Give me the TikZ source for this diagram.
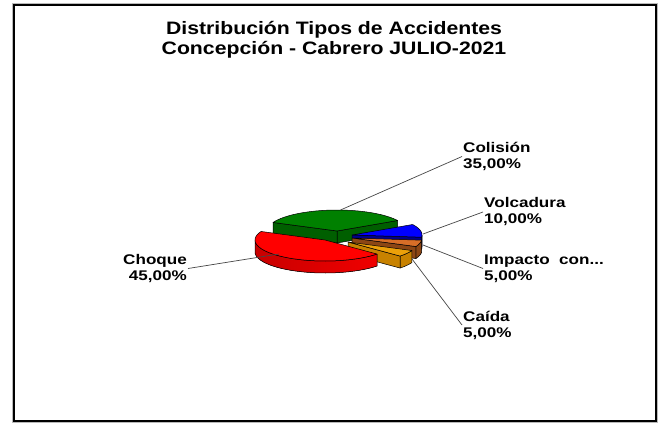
\documentclass[tikz,border=0pt]{standalone}
\usepackage{fontspec}
\setmainfont{Liberation Sans}
\newfontfamily\lblfont[FakeStretch=1.22]{Liberation Sans}
\newfontfamily\ttlfont[FakeStretch=1.18]{Liberation Sans}
\definecolor{pgreen}{RGB}{0,128,0}
\definecolor{pgreenS}{RGB}{0,95,0}
\definecolor{pred}{RGB}{255,0,0}
\definecolor{predS}{RGB}{240,0,0}
\definecolor{predD}{RGB}{200,0,0}
\definecolor{pblue}{RGB}{0,0,255}
\definecolor{pblueS}{RGB}{0,0,140}
\definecolor{pbrown}{RGB}{215,110,40}
\definecolor{pbrownS}{RGB}{140,70,20}
\definecolor{pyel}{RGB}{235,160,10}
\definecolor{pyelS}{RGB}{200,130,0}
\definecolor{leadc}{RGB}{70,70,70}
\def\rx{70}\def\ry{21}\def\dep{12}
\newcommand\outerwall[5]{%
  \filldraw[#5, draw=black, line width=.5pt, line join=round]
    plot[domain=#3:#4,samples=30] ({#1+\rx*cos(\x)},{#2-\ry*sin(\x)})
    -- plot[domain=#4:#3,samples=30] ({#1+\rx*cos(\x)},{#2+\dep-\ry*sin(\x)}) -- cycle;}
\newcommand\radwall[4]{%
  \filldraw[fill=#4, draw=black, line width=.5pt, line join=round]
    (#1,#2) -- ({#1+\rx*cos(#3)},{#2-\ry*sin(#3)})
    -- ({#1+\rx*cos(#3)},{#2+\dep-\ry*sin(#3)}) -- (#1,{#2+\dep}) -- cycle;}
\newcommand\topface[5]{%
  \filldraw[fill=#5, draw=black, line width=.5pt, line join=round]
    (#1,#2) -- plot[domain=#3:#4,samples=40] ({#1+\rx*cos(\x)},{#2-\ry*sin(\x)}) -- cycle;}
\tikzset{
  lbl/.style={font=\lblfont\bfseries\fontsize{14}{16}\selectfont, inner sep=1pt, align=left},
  lead/.style={draw=leadc, line width=.7pt},
}
\begin{document}
\begin{tikzpicture}[x=1pt,y=-1pt]
\useasboundingbox (0,0) rectangle (664,423);
\fill[white] (0,0) rectangle (664,423);
% frame
\draw[gray!55, line width=1pt] (12.5,3.5) rectangle (657.5,422.5);
\draw[black, line width=2pt] (14,5) rectangle (656,421);
% title
\node[font=\ttlfont\bfseries\fontsize{18}{19.5}\selectfont, align=center, inner sep=0pt] (title) at (334,40)
  {Distribución Tipos de Accidentes\\Concepción - Cabrero JULIO-2021};
% green (Colision)
\radwall{337}{231}{30}{pgreenS}
\radwall{337}{231}{156}{pgreenS}
\topface{337}{231}{30}{156}{pgreen}
% blue (Volcadura)
\outerwall{352}{235}{-6}{0}{fill=pblueS}
\radwall{352}{235}{-6}{pblueS}
\topface{352}{235}{-6}{30}{pblue}
% brown (Impacto con...)
\outerwall{352}{238}{-24}{-6}{fill=pbrownS}
\radwall{352}{238}{-24}{pbrownS}
\topface{352}{238}{-24}{-6}{pbrown}
% yellow (Caida)
\outerwall{348}{242}{-42}{-24}{fill=pyelS}
\radwall{348}{242}{-42}{pyelS}
\topface{348}{242}{-42}{-24}{pyel}
% red (Choque)
\outerwall{325}{240}{180}{318}{left color=predD, right color=predS}
\topface{325}{240}{156}{318}{pred}
% anchor points on the pie
\coordinate (pCol) at (340.5,210);
\coordinate (pVol) at (423,234);
\coordinate (pImp) at (423,245);
\coordinate (pCai) at (412,259);
\coordinate (pCho) at (279,254);
% labels
\node[lbl, anchor=west] (lCol) at (462,156.5) {Colisión\\35,00\%};
\node[lbl, anchor=west] (lVol) at (483,212) {Volcadura\\10,00\%};
\node[lbl, anchor=west] (lImp) at (483,268.5) {Impacto~~con...\\5,00\%};
\node[lbl, anchor=west] (lCai) at (462,325) {Caída\\5,00\%};
\node[lbl, anchor=east, align=right] (lCho) at (188,268.5) {Choque\\45,00\%};
% leaders
\draw[lead] (pCol) -- (lCol.west);
\draw[lead] (pVol) -- (lVol.west);
\draw[lead] (pImp) -- (lImp.west);
\draw[lead] (pCai) -- (lCai.west);
\draw[lead] (pCho) -- (lCho.east);
\end{tikzpicture}
\end{document}
